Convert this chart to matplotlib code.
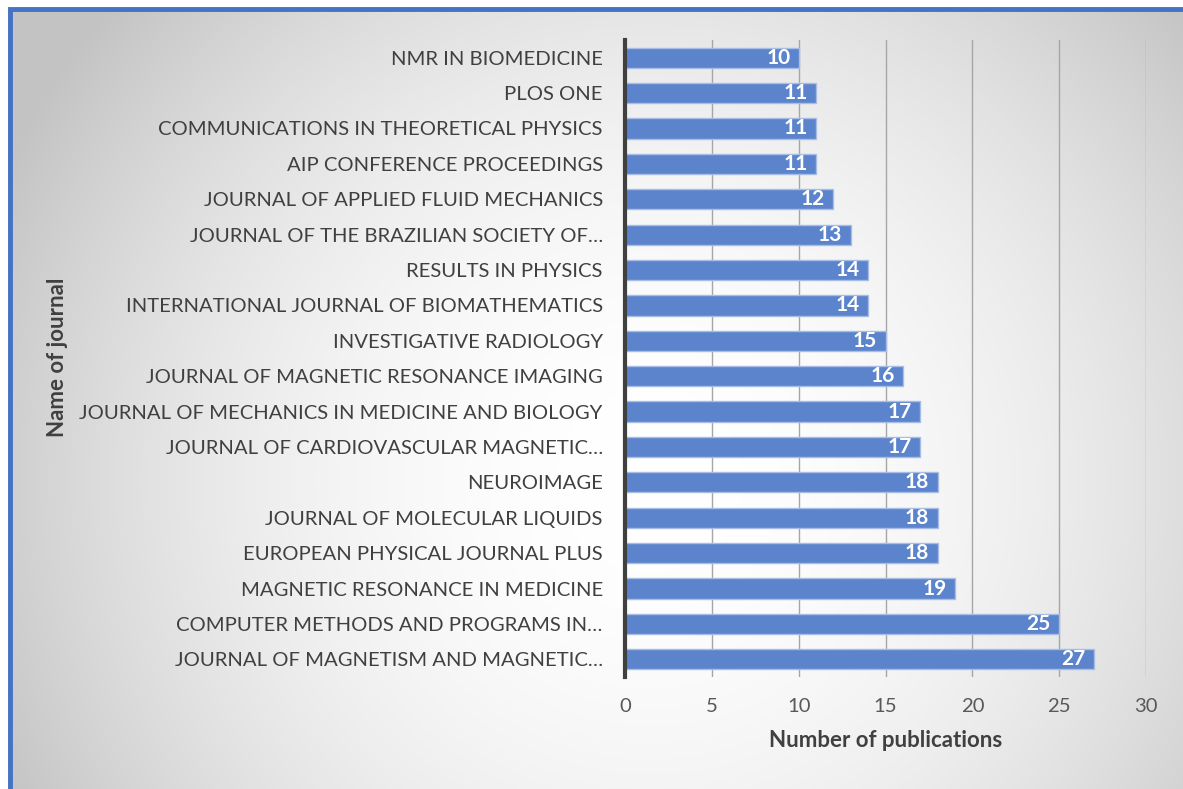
import numpy as np
import matplotlib
matplotlib.use('Agg')
import matplotlib.pyplot as plt
from matplotlib.patches import Rectangle

# journals, top to bottom as shown
journals = [
    'NMR IN BIOMEDICINE',
    'PLOS ONE',
    'COMMUNICATIONS IN THEORETICAL PHYSICS',
    'AIP CONFERENCE PROCEEDINGS',
    'JOURNAL OF APPLIED FLUID MECHANICS',
    'JOURNAL OF THE BRAZILIAN SOCIETY OF…',
    'RESULTS IN PHYSICS',
    'INTERNATIONAL JOURNAL OF BIOMATHEMATICS',
    'INVESTIGATIVE RADIOLOGY',
    'JOURNAL OF MAGNETIC RESONANCE IMAGING',
    'JOURNAL OF MECHANICS IN MEDICINE AND BIOLOGY',
    'JOURNAL OF CARDIOVASCULAR MAGNETIC…',
    'NEUROIMAGE',
    'JOURNAL OF MOLECULAR LIQUIDS',
    'EUROPEAN PHYSICAL JOURNAL PLUS',
    'MAGNETIC RESONANCE IN MEDICINE',
    'COMPUTER METHODS AND PROGRAMS IN…',
    'JOURNAL OF MAGNETISM AND MAGNETIC…',
]
publications = [10, 11, 11, 11, 12, 13, 14, 14, 15, 16, 17, 17, 18, 18, 18, 19, 25, 27]
xticks = [0, 5, 10, 15, 20, 25, 30]

plt.rcParams['font.family'] = ['Lato', 'DejaVu Sans']

W, H = 1183, 789
fig = plt.figure(figsize=(W / 100, H / 100), dpi=100)
fig.patch.set_facecolor('white')

# background gradient (radial, light centre, grey edges)
bg = fig.add_axes([0, 0, 1, 1], zorder=-10)
yy, xx = np.mgrid[0:H, 0:W]
r = np.hypot(xx - 650, yy - 480)
drop = np.clip(60 * (r / 720) ** 2, 0, 60)
val = (255 - drop) / 255.0
img = np.dstack([val, val, val])
img[:9, :, :] = 1.0
img[:, :8, :] = 1.0
bg.imshow(img, aspect='auto', extent=[0, 1, 0, 1], origin='upper')
bg.axis('off')

# blue border (left and top only visible)
fig.patches.append(Rectangle((9.5 / W, -0.1), 1.2, 1 - 9.5 / H + 0.1,
                             transform=fig.transFigure, fill=False,
                             edgecolor='#4472c4', linewidth=3.5, zorder=5))

ax = fig.add_axes([625 / W, 1 - 677 / H, 521 / W, 637 / H])
ax.patch.set_alpha(0)

y = np.arange(len(journals))[::-1]
bars = ax.barh(y, publications, height=0.57, color='#5b84cc',
               edgecolor='#a8bde6', linewidth=1, zorder=3)

for yi, v in zip(y, publications):
    ax.annotate(str(v), (v, yi), xytext=(-6, 0), textcoords='offset points',
                ha='right', va='center', color='white', fontsize=15,
                fontweight='bold', zorder=4)

ax.set_xlim(0, 30)
ax.set_ylim(-0.5, 17.5)
ax.set_xticks(xticks)
ax.set_yticks(y)
ax.set_yticklabels(journals)
ax.xaxis.grid(True, color='#a6a6a6', linewidth=1, zorder=0)
ax.set_axisbelow(True)
for s in ['top', 'right', 'bottom']:
    ax.spines[s].set_visible(False)
ax.spines['left'].set_color('#404040')
ax.spines['left'].set_linewidth(3)
ax.spines['left'].set_zorder(5)
ax.tick_params(axis='y', length=0, pad=16, labelsize=14.6, labelcolor='#404040')
ax.tick_params(axis='x', length=0, pad=15, labelsize=14.6, labelcolor='#595959')

ax.set_xlabel('Number of publications', fontsize=16, fontweight='bold',
              color='#404040', labelpad=11)
fig.text(58 / W, 1 - 357 / H, 'Name of journal', rotation=90, ha='center',
         va='center', fontsize=16, fontweight='bold', color='#404040')

fig.savefig('out.png', dpi=100)
